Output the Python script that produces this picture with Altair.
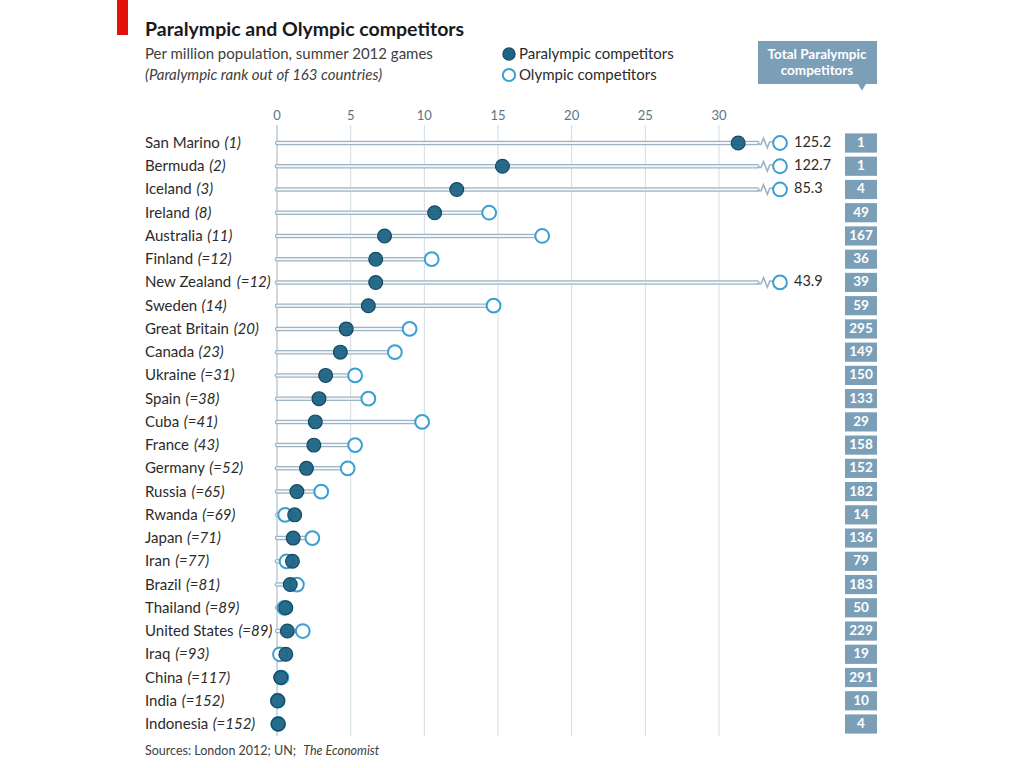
import altair as alt
import pandas as pd

# ---------------- data ----------------
countries = ["San Marino", "Bermuda", "Iceland", "Ireland", "Australia", "Finland",
             "New Zealand", "Sweden", "Great Britain", "Canada", "Ukraine", "Spain",
             "Cuba", "France", "Germany", "Russia", "Rwanda", "Japan", "Iran", "Brazil",
             "Thailand", "United States", "Iraq", "China", "India", "Indonesia"]
ranks = ["1", "2", "3", "8", "11", "=12", "=12", "14", "20", "23", "=31", "=38",
         "=41", "43", "=52", "=65", "=69", "=71", "=77", "=81", "=89", "=89", "=93",
         "=117", "=152", "=152"]
paralympic = [31.3, 15.3, 12.2, 10.7, 7.3, 6.7, 6.7, 6.2, 4.7, 4.3, 3.3, 2.85, 2.6,
              2.5, 2.0, 1.35, 1.2, 1.1, 1.05, 0.9, 0.6, 0.7, 0.6, 0.25, 0.05, 0.08]
olympic = [125.2, 122.7, 85.3, 14.4, 18.0, 10.5, 43.9, 14.7, 9.0, 8.0, 5.3, 6.2, 9.85,
           5.3, 4.8, 3.0, 0.55, 2.4, 0.65, 1.35, 0.5, 1.75, 0.2, 0.3, 0.05, 0.08]
totals = [1, 1, 4, 49, 167, 36, 39, 59, 295, 149, 150, 133, 29, 158, 152, 182, 14,
          136, 79, 183, 50, 229, 19, 291, 10, 4]
ticks = [0, 5, 10, 15, 20, 25, 30]

# ---------------- style constants ----------------
FONT = "Lato"
SCALE_MAX = 34.14      # clamp point of the x scale (off-scale values sit here)
BREAK = 32.6           # where the line stops for off-scale values
ZIG = 33.15            # centre of the break symbol
LABEL_X = 145
LABEL_SIZE = 15
SRC_SIZE = 12.5

# rough Lato advance widths (em) to place the italic part after the regular part
W = {' ': .32, 'A': .68, 'B': .63, 'C': .66, 'D': .72, 'E': .56, 'F': .54, 'G': .7,
     'H': .74, 'I': .28, 'J': .38, 'K': .65, 'L': .5, 'M': .88, 'N': .74, 'O': .77,
     'P': .6, 'R': .63, 'S': .53, 'T': .58, 'U': .72, 'W': .96, 'Z': .6,
     'a': .49, 'b': .56, 'c': .47, 'd': .56, 'e': .52, 'f': .32, 'g': .5, 'h': .56,
     'i': .24, 'j': .24, 'k': .5, 'l': .24, 'm': .84, 'n': .56, 'o': .55, 'p': .56,
     'q': .56, 'r': .36, 's': .43, 't': .34, 'u': .56, 'v': .5, 'w': .76, 'x': .48,
     'y': .5, 'z': .45, ';': .3, ':': .3, ',': .26, '.': .26,
     '0': .58, '1': .58, '2': .58, '3': .58, '4': .58, '5': .58, '6': .58,
     '7': .58, '8': .58, '9': .58}


def text_width(s, size):
    return sum(W.get(ch, .55) for ch in s) * size


df = pd.DataFrame({
    "country": countries,
    "rank": ["(" + r + ")" for r in ranks],
    "para": paralympic,
    "oly": olympic,
    "total": [str(t) for t in totals],
})
df["zero"] = 0.0
df["broken"] = df["oly"] > SCALE_MAX
df["lineEnd"] = [min(max(p, o), BREAK) for p, o in zip(df["para"], df["oly"])]
df["zig"] = ZIG
df["olyLabel"] = [f"{o:.1f}" if b else "" for o, b in zip(df["oly"], df["broken"])]
df["rankX"] = [LABEL_X + text_width(c + " ", LABEL_SIZE) for c in countries]

tick_df = pd.DataFrame({"v": ticks, "lab": [str(t) for t in ticks]})
one = pd.DataFrame({"k": [0]})

xs = alt.Scale(domain=[0, SCALE_MAX], range=[277, 780], clamp=True)


def X(field):
    return alt.X(field, scale=xs, axis=None)


Y = alt.Y("country:N", sort=countries,
          scale=alt.Scale(type="point", range=[143, 724], padding=0), axis=None)

C_TEXT = "#2b2b2b"
C_SUB = "#404040"
C_GRID = "#cfdbe3"
C_AXIS = "#9fb2c0"
C_LINE_OUT = "#9db4c5"
C_LINE_IN = "#f2f6f9"
C_PARA = "#1d6384"
C_PARA_STROKE = "#134a63"
C_OLY = "#3a9fd2"
C_BOX = "#7c9fb8"
C_RED = "#e3120b"

base = alt.Chart(df)

# grid
grid = alt.Chart(tick_df).mark_rule(strokeWidth=1).encode(
    x=X("v:Q"),
    y=alt.value(125), y2=alt.value(736),
    color=alt.condition(alt.datum.v == 0, alt.value(C_AXIS), alt.value(C_GRID)),
)
tick_labels = alt.Chart(tick_df).mark_text(
    font=FONT, fontSize=13, color="#5d7384", baseline="middle"
).encode(x=X("v:Q"), y=alt.value(116), text="lab:N")

# lines
line_out = base.mark_rule(strokeWidth=4.5, color=C_LINE_OUT, strokeCap="round").encode(
    x=X("zero:Q"), x2="lineEnd:Q", y=Y)
line_in = base.mark_rule(strokeWidth=2, color=C_LINE_IN, strokeCap="round").encode(
    x=X("zero:Q"), x2="lineEnd:Q", y=Y)

zig = base.transform_filter("datum.broken").mark_point(
    shape="M-1,0.15 L-0.5,0.15 L-0.22,-0.55 L0.22,0.55 L0.5,-0.15 L1,-0.15",
    filled=False, size=300, strokeWidth=1.6, color=C_LINE_OUT, opacity=1
).encode(x=X("zig:Q"), y=Y)

oly_pts = base.mark_point(
    shape="circle", filled=True, size=190, fill="white", stroke=C_OLY,
    strokeWidth=2, opacity=1
).encode(x=X("oly:Q"), y=Y)

para_pts = base.mark_point(
    shape="circle", filled=True, size=190, fill=C_PARA, stroke=C_PARA_STROKE,
    strokeWidth=1.2, opacity=1, fillOpacity=0.95
).encode(x=X("para:Q"), y=Y)

oly_labels = base.transform_filter("datum.broken").mark_text(
    font=FONT, fontSize=14.5, color=C_TEXT, align="left", baseline="middle", dx=14
).encode(x=X("oly:Q"), y=Y, text="olyLabel:N")

# row labels
names = base.mark_text(
    font=FONT, fontSize=LABEL_SIZE, color=C_TEXT, align="left", baseline="middle"
).encode(x=alt.value(LABEL_X), y=Y, text="country:N")
rank_text = base.mark_text(
    font=FONT, fontSize=LABEL_SIZE, color=C_TEXT, align="left", baseline="middle",
    fontStyle="italic"
).encode(x=alt.X("rankX:Q", scale=None, axis=None), y=Y, text="rank:N")

# totals column
boxes = base.mark_point(
    shape="M-1,-0.6 L1,-0.6 L1,0.6 L-1,0.6 Z", filled=True, size=1024,
    color=C_BOX, opacity=1
).encode(x=alt.value(861), y=Y)
box_text = base.mark_text(
    font=FONT, fontSize=13.5, color="white", baseline="middle", fontWeight="bold"
).encode(x=alt.value(861), y=Y, text="total:N")

header = alt.Chart(one).mark_rect(color=C_BOX).encode(
    x=alt.value(758), x2=alt.value(877), y=alt.value(41), y2=alt.value(84))
pointer = alt.Chart(one).mark_point(
    shape="triangle-down", filled=True, size=120, color=C_BOX, opacity=1
).encode(x=alt.value(862), y=alt.value(86))
head1 = alt.Chart(one).mark_text(
    font=FONT, fontSize=13.5, fontWeight="bold", color="white", baseline="middle"
).encode(x=alt.value(817), y=alt.value(55), text=alt.value("Total Paralympic"))
head2 = alt.Chart(one).mark_text(
    font=FONT, fontSize=13.5, fontWeight="bold", color="white", baseline="middle"
).encode(x=alt.value(817), y=alt.value(71), text=alt.value("competitors"))

# titles
red = alt.Chart(one).mark_rect(color=C_RED).encode(
    x=alt.value(117), x2=alt.value(128), y=alt.value(0), y2=alt.value(35))
title = alt.Chart(one).mark_text(
    font=FONT, fontSize=19.5, fontWeight="bold", color="#1a1a1a", align="left",
    baseline="alphabetic"
).encode(x=alt.value(145), y=alt.value(36),
         text=alt.value("Paralympic and Olympic competitors"))
sub1 = alt.Chart(one).mark_text(
    font=FONT, fontSize=15, color=C_SUB, align="left", baseline="alphabetic"
).encode(x=alt.value(145), y=alt.value(59),
         text=alt.value("Per million population, summer 2012 games"))
sub2 = alt.Chart(one).mark_text(
    font=FONT, fontSize=15, color=C_SUB, align="left", baseline="alphabetic",
    fontStyle="italic"
).encode(x=alt.value(145), y=alt.value(80),
         text=alt.value("(Paralympic rank out of 163 countries)"))

# legend
leg_para = alt.Chart(one).mark_point(
    shape="circle", filled=True, size=150, fill=C_PARA, stroke=C_PARA_STROKE,
    strokeWidth=1.2, opacity=1
).encode(x=alt.value(509), y=alt.value(54))
leg_oly = alt.Chart(one).mark_point(
    shape="circle", filled=True, size=150, fill="white", stroke=C_OLY,
    strokeWidth=2, opacity=1
).encode(x=alt.value(509), y=alt.value(75))
leg_t1 = alt.Chart(one).mark_text(
    font=FONT, fontSize=15, color=C_TEXT, align="left", baseline="middle"
).encode(x=alt.value(519), y=alt.value(54), text=alt.value("Paralympic competitors"))
leg_t2 = alt.Chart(one).mark_text(
    font=FONT, fontSize=15, color=C_TEXT, align="left", baseline="middle"
).encode(x=alt.value(519), y=alt.value(75), text=alt.value("Olympic competitors"))

# source
src_reg = "Sources: London 2012; UN; "
src1 = alt.Chart(one).mark_text(
    font=FONT, fontSize=SRC_SIZE, color=C_SUB, align="left", baseline="middle"
).encode(x=alt.value(145), y=alt.value(751), text=alt.value(src_reg))
src2 = alt.Chart(one).mark_text(
    font=FONT, fontSize=SRC_SIZE, color=C_SUB, align="left", baseline="middle",
    fontStyle="italic"
).encode(x=alt.value(145 + text_width(src_reg, SRC_SIZE)), y=alt.value(751),
         text=alt.value("The Economist"))

chart = alt.layer(
    grid, tick_labels, line_out, line_in, zig, oly_pts, para_pts, oly_labels,
    names, rank_text, boxes, box_text, header, pointer, head1, head2,
    red, title, sub1, sub2, leg_para, leg_oly, leg_t1, leg_t2, src1, src2
).properties(
    width=1024, height=768,
    autosize=alt.AutoSizeParams(type="none"),
    padding=0, background="white"
).configure_view(strokeWidth=0)

chart.save("out.html", embed_options={"renderer": "svg", "actions": False})
